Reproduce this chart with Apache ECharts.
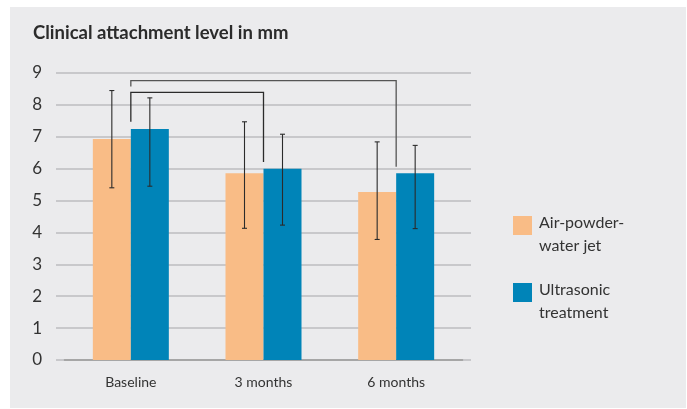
<!DOCTYPE html>
<html>
<head>
<meta charset="utf-8">
<style>
  html, body { margin: 0; padding: 0; background: #ffffff; }
  #chart { position: absolute; left: 0; top: 0; width: 687px; height: 409px; }
</style>
<script src="https://cdn.jsdelivr.net/npm/echarts@6/dist/echarts.min.js"></script>
</head>
<body>
<div id="chart"></div>
<script>
// Clinical attachment level (mm), mean with spread, per time point
const categories = ['Baseline', '3 months', '6 months'];
const seriesNames = ['Air-powder-water jet', 'Ultrasonic treatment'];
const legendLines = [['Air-powder-', 'water jet'], ['Ultrasonic', 'treatment']];

const airPowderMean = [6.93, 5.86, 5.27];
const airPowderLow  = [5.40, 4.13, 3.78];
const airPowderHigh = [8.45, 7.47, 6.84];

const ultrasonicMean = [7.24, 6.00, 5.86];
const ultrasonicLow  = [5.45, 4.23, 4.12];
const ultrasonicHigh = [8.22, 7.08, 6.73];

// Comparison brackets: [fromCategory, toCategory, topValue, leftEndValue, rightEndValue]
const brackets = [
  [0, 1, 8.39, 7.47, 6.21],
  [0, 2, 8.76, 8.58, 6.06]
];

const yTicks = { min: 0, max: 9, interval: 1 };

const ORANGE = '#f9bc86';
const BLUE = '#0084b8';
const BAR_W = 38;
const FONT = 'Lato, "Open Sans", sans-serif';

const chart = echarts.init(document.getElementById('chart'), null, { renderer: 'canvas' });

function errorBarItem(lows, highs, side) {
  return function (params, api) {
    const i = api.value(0);
    const top = api.coord([i, highs[i]]);
    const bot = api.coord([i, lows[i]]);
    const x = top[0] + side * BAR_W / 2;
    const cap = 2.5;
    const style = { stroke: '#2b2b2b', lineWidth: 1.1 };
    return {
      type: 'group',
      children: [
        { type: 'line', shape: { x1: x, y1: top[1], x2: x, y2: bot[1] }, style },
        { type: 'line', shape: { x1: x - cap, y1: top[1], x2: x + cap, y2: top[1] }, style },
        { type: 'line', shape: { x1: x - cap, y1: bot[1], x2: x + cap, y2: bot[1] }, style }
      ]
    };
  };
}

// Two-line legend label whose first line sits level with the swatch
function legendLabel(idx) {
  return '{gap| }\n{t|' + legendLines[idx][0] + '}\n{t|' + legendLines[idx][1] + '}';
}
function legendFor(idx, top) {
  return {
    data: [seriesNames[idx]], orient: 'vertical', left: 513, top: top, padding: 0,
    itemWidth: 19, itemHeight: 19, icon: 'rect', itemGap: 0,
    formatter: () => legendLabel(idx),
    textStyle: {
      fontFamily: FONT, fontSize: 16, color: '#333',
      rich: {
        gap: { fontSize: 10, lineHeight: 18 },
        t: { fontFamily: FONT, fontSize: 16, color: '#333', lineHeight: 23, padding: [0, 0, 0, 2] }
      }
    }
  };
}

chart.setOption({
  backgroundColor: '#ffffff',
  animation: false,
  graphic: [{
    type: 'rect', left: 10, top: 7, z: -10,
    shape: { width: 676, height: 401 },
    style: { fill: '#ebebed' }
  }],
  title: {
    text: 'Clinical attachment level in mm',
    left: 28, top: 19,
    textStyle: { fontFamily: FONT, fontWeight: 'bold', fontSize: 18.5, color: '#2b2b2b' }
  },
  legend: [legendFor(0, 197.5), legendFor(1, 264.5)],
  grid: [
    { left: 56, right: 216, top: 73, bottom: 49 },
    { left: 64.5, right: 224.5, top: 73, bottom: 49 }
  ],
  xAxis: [
    {
      gridIndex: 0, type: 'value', min: 0, max: 1, show: true,
      axisLine: { show: false }, axisTick: { show: false }, axisLabel: { show: false }, splitLine: { show: false }
    },
    {
      gridIndex: 1, type: 'category', data: categories,
      axisLine: { show: true, lineStyle: { color: '#9a9a9a', width: 1.5 } },
      axisTick: { show: false },
      axisLabel: { margin: 15, fontFamily: FONT, fontSize: 14, color: '#333' }
    }
  ],
  yAxis: [
    {
      gridIndex: 0, type: 'value', min: yTicks.min, max: yTicks.max, interval: yTicks.interval,
      axisLine: { show: false }, axisTick: { show: false },
      axisLabel: { margin: 14, fontFamily: FONT, fontSize: 17, color: '#333' },
      splitLine: { lineStyle: { color: '#bdbdbf', width: 1.5 } }
    },
    {
      gridIndex: 1, type: 'value', min: yTicks.min, max: yTicks.max, interval: yTicks.interval,
      show: false, splitLine: { show: false }
    }
  ],
  series: [
    {
      name: seriesNames[0], type: 'bar', xAxisIndex: 1, yAxisIndex: 1,
      data: airPowderMean, barWidth: BAR_W, barGap: '0%',
      itemStyle: { color: ORANGE }
    },
    {
      name: seriesNames[1], type: 'bar', xAxisIndex: 1, yAxisIndex: 1,
      data: ultrasonicMean, barWidth: BAR_W, barGap: '0%',
      itemStyle: { color: BLUE }
    },
    {
      type: 'custom', xAxisIndex: 1, yAxisIndex: 1, z: 5,
      data: categories.map((c, i) => [i]),
      renderItem: errorBarItem(airPowderLow, airPowderHigh, -1)
    },
    {
      type: 'custom', xAxisIndex: 1, yAxisIndex: 1, z: 5,
      data: categories.map((c, i) => [i]),
      renderItem: errorBarItem(ultrasonicLow, ultrasonicHigh, 1)
    },
    {
      type: 'custom', xAxisIndex: 1, yAxisIndex: 1, z: 6,
      data: brackets,
      renderItem: function (params, api) {
        const from = api.value(0), to = api.value(1);
        const a = api.coord([from, api.value(3)]);
        const b = api.coord([from, api.value(2)]);
        const c = api.coord([to, api.value(2)]);
        const d = api.coord([to, api.value(4)]);
        return {
          type: 'polyline',
          shape: { points: [a, b, c, d] },
          style: { stroke: params.dataIndex === 0 ? '#2b2b2b' : '#555', lineWidth: 1.3, fill: null }
        };
      }
    }
  ]
});
</script>
</body>
</html>
